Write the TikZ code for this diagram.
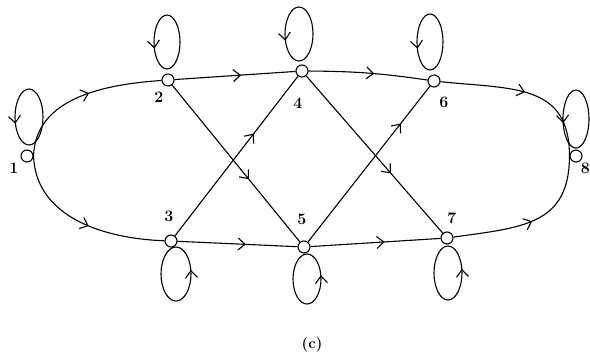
\documentclass[tikz,border=0pt]{standalone}
\usetikzlibrary{arrows.meta,decorations.markings}
\begin{document}
\begin{tikzpicture}[x=1pt,y=1pt,
  barb/.tip={Straight Barb[length=7pt,width=12pt]},
  vertex/.style={circle,draw,fill=white,inner sep=0pt,minimum size=12pt,line width=1.1pt},
  lbl/.style={font=\fontsize{16}{18}\selectfont\bfseries},
  edge/.style={line width=1.1pt},
  midarrow/.style={postaction={decorate,decoration={markings,mark=at position #1 with {\arrow{barb}}}}},
]
\path[use as bounding box, fill=white] (0,0) rectangle (590,357);
% vertices
\node[vertex] (n1) at (27,201) {};
\node[vertex] (n2) at (168,277) {};
\node[vertex] (n4) at (302,286) {};
\node[vertex] (n6) at (434,276) {};
\node[vertex] (n8) at (576,201) {};
\node[vertex] (n3) at (171,116) {};
\node[vertex] (n5) at (304,110) {};
\node[vertex] (n7) at (447,119) {};
% labels
\node[lbl] (l1) at (14,189) {1};
\node[lbl] (l2) at (159,260) {2};
\node[lbl] (l4) at (298,254) {4};
\node[lbl] (l6) at (444,255) {6};
\node[lbl] (l8) at (585.5,189) {8};
\node[lbl] (l3) at (169,141) {3};
\node[lbl] (l5) at (302,138) {5};
\node[lbl] (l7) at (452,139) {7};
\node[font=\fontsize{15}{17}\selectfont\bfseries] (capt) at (312,12) {(c)};
% outer paths
\draw[edge, midarrow=0.55] (n1.east) to[out=88, in=184] (n2);
\draw[edge, midarrow=0.55] (n2) -- (n4);
\draw[edge, midarrow=0.55] (n4) to[bend left=4] (n6);
\draw[edge, midarrow=0.5] (n6) to[out=-6, in=90, looseness=1.25] (n8.west);
\draw[edge, midarrow=0.55] (n1.east) to[out=-88, in=178] (n3);
\draw[edge, midarrow=0.57] (n3) -- (n5);
\draw[edge, midarrow=0.57] (n5) -- (n7);
\draw[edge, midarrow=0.5] (n7) to[out=8, in=-90, looseness=1.25] (n8.west);
% diagonals
\draw[edge, midarrow=0.6] (n2) -- (n5);
\draw[edge, midarrow=0.64] (n3) -- (n4);
\draw[edge, midarrow=0.62] (n4) -- (n7);
\draw[edge, midarrow=0.76] (n5) -- (n6);
% self loops
\draw[edge, midarrow=0.55] (n1) ++(2,39) ellipse [x radius=14, y radius=28];
\draw[edge, midarrow=0.55] (n2) ++(-1,38) ellipse [x radius=13, y radius=27];
\draw[edge, midarrow=0.55] (n4) ++(-3,37) ellipse [x radius=14, y radius=27];
\draw[edge, midarrow=0.55] (n6) ++(-4,39) ellipse [x radius=13, y radius=28];
\draw[edge, midarrow=0.53] (n8) ++(0,37) ellipse [x radius=13, y radius=29];
\draw[edge, midarrow=0.03] (n3) ++(5,-33) ellipse [x radius=15, y radius=27];
\draw[edge, midarrow=0.03] (n5) ++(3,-32) ellipse [x radius=14, y radius=25];
\draw[edge, midarrow=0.03] (n7) ++(1,-35) ellipse [x radius=14, y radius=27];
\end{tikzpicture}
\end{document}
